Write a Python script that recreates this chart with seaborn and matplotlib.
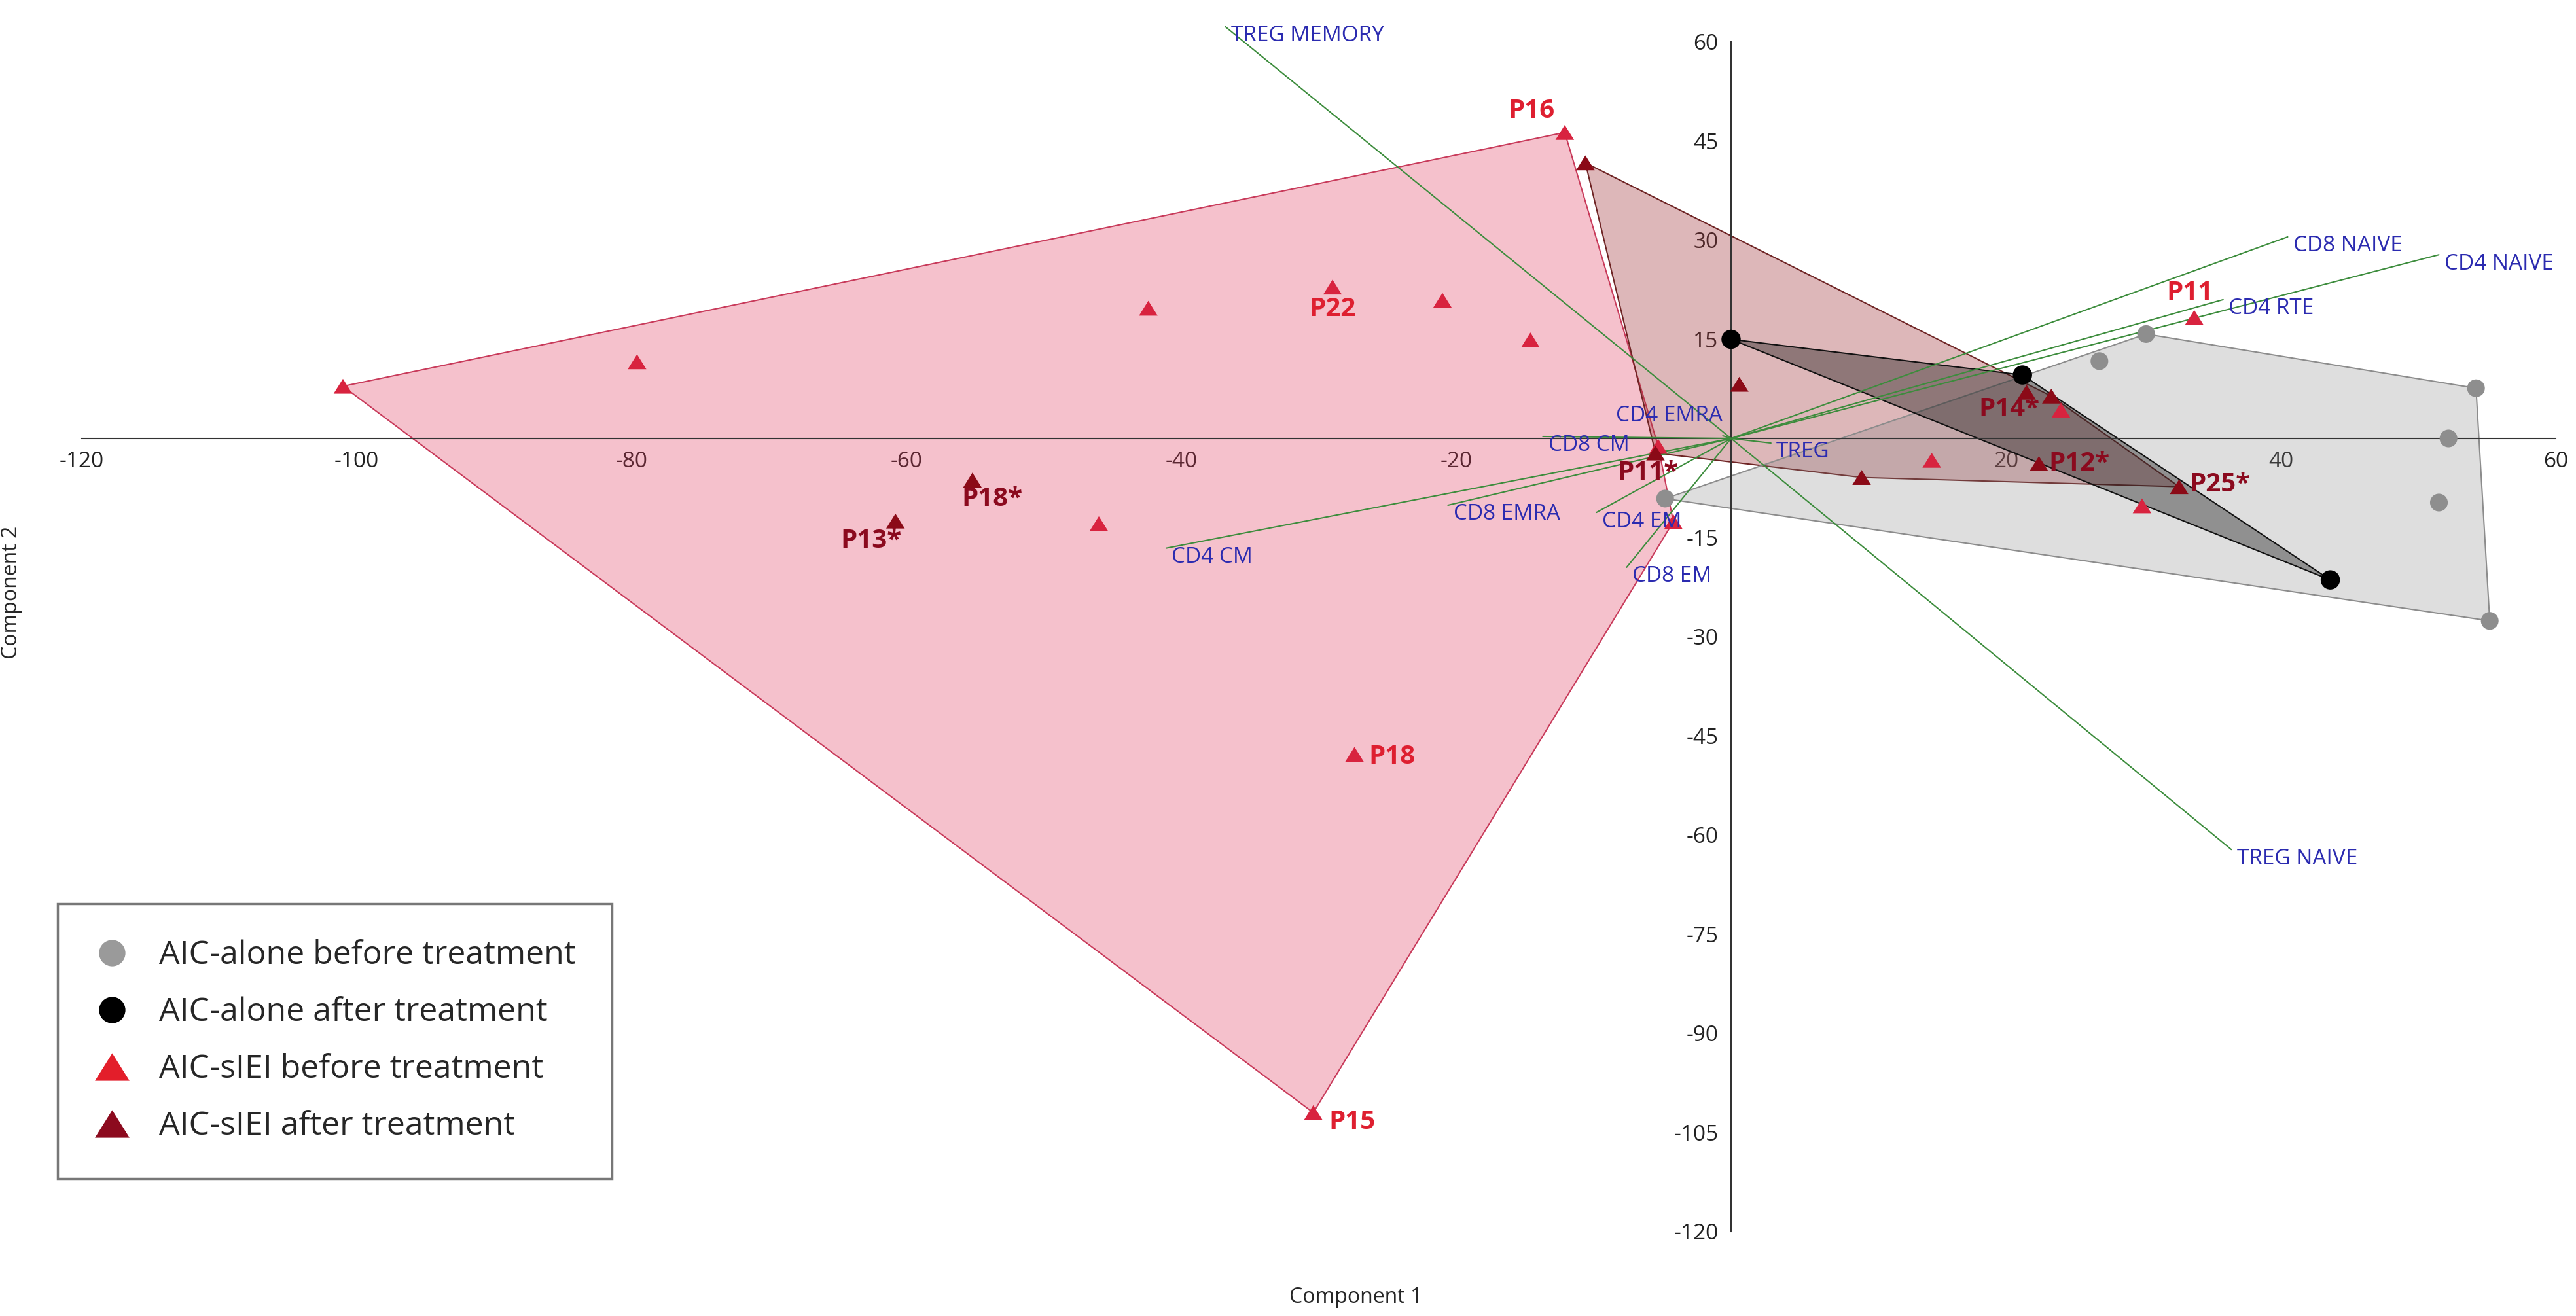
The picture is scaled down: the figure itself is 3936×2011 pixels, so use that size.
import numpy as np
import pandas as pd
import matplotlib
matplotlib.use("Agg")
import matplotlib.pyplot as plt
import seaborn as sns
from matplotlib.lines import Line2D

# --- data (PCA scores) ---
alone_before_x = [-4.8, 26.8, 30.2, 54.2, 52.2, 51.5, 55.2]
alone_before_y = [-9.1, 11.7, 15.8, 7.6, 0.0, -9.7, -27.6]

alone_after_x = [0.0, 21.2, 43.6]
alone_after_y = [15.0, 9.6, -21.4]

sIEI_before_x = [-101.0, -79.6, -46.0, -42.4, -29.0, -21.0, -14.6, -12.1, -27.4, -30.4, -5.3, -4.2, 14.6, 24.0, 29.9, 33.7]
sIEI_before_y = [7.9, 11.6, -12.9, 19.7, 22.9, 20.9, 14.9, 46.3, -47.8, -102.0, -1.2, -12.6, -3.3, 4.3, -10.2, 18.3]
sIEI_before_names = ["", "", "", "", "P22", "", "", "P16", "P18", "P15", "", "", "", "", "", "P11"]
sIEI_before_hull = list(range(12))

sIEI_after_x = [-60.8, -55.2, -10.6, 0.6, -5.5, 9.5, 21.5, 23.3, 22.4, 32.6]
sIEI_after_y = [-12.5, -6.3, 41.7, 8.2, -2.2, -5.9, 7.0, 6.4, -3.8, -7.3]
sIEI_after_names = ["P13*", "P18*", "", "", "P11*", "", "P14*", "", "P12*", "P25*"]
sIEI_after_hull = list(range(2, 10))

# --- loadings (biplot vectors) ---
loading_names = ["TREG MEMORY", "CD8 NAIVE", "CD4 NAIVE", "CD4 RTE", "TREG NAIVE", "TREG",
                 "CD4 CM", "CD8 EMRA", "CD8 CM", "CD4 EM", "CD8 EM", "CD4 EMRA"]
loading_x = [-36.8, 40.5, 51.5, 35.8, 36.4, 2.9, -41.1, -20.6, -13.7, -9.8, -7.6, -0.6]
loading_y = [62.3, 30.5, 27.8, 21.0, -62.2, -0.7, -16.6, -10.1, 0.3, -11.2, -19.5, 0.4]

group_labels = ["AIC-alone before treatment", "AIC-alone after treatment",
                "AIC-sIEI before treatment", "AIC-sIEI after treatment"]

# label offsets in points
label_offsets = {"P16": (-37, 24), "P22": (0, -24), "P11": (-5, 27), "P18": (41, -3), "P15": (43, -10),
                 "P13*": (-27, -22), "P18*": (22, -21), "P11*": (-8, -22), "P14*": (-19, -19),
                 "P12*": (44, 0), "P25*": (45, 2)}

C_GREY = "#8e8e8e"
C_BLACK = "#000000"
C_RED = "#d8233f"
C_DARK = "#8b0a17"
TRI = [(-1, -0.8), (1, -0.8), (0, 0.8)]


def convex_hull(xs, ys):
    pts = sorted(set(zip(xs, ys)))

    def cross(o, a, b):
        return (a[0] - o[0]) * (b[1] - o[1]) - (a[1] - o[1]) * (b[0] - o[0])

    lower, upper = [], []
    for p in pts:
        while len(lower) >= 2 and cross(lower[-2], lower[-1], p) <= 0:
            lower.pop()
        lower.append(p)
    for p in reversed(pts):
        while len(upper) >= 2 and cross(upper[-2], upper[-1], p) <= 0:
            upper.pop()
        upper.append(p)
    return np.array(lower[:-1] + upper[:-1])


sns.set_style("white")
plt.rcParams["font.family"] = ["Open Sans", "DejaVu Sans"]

df = pd.concat([
    pd.DataFrame({"x": alone_before_x, "y": alone_before_y, "group": group_labels[0]}),
    pd.DataFrame({"x": alone_after_x, "y": alone_after_y, "group": group_labels[1]}),
    pd.DataFrame({"x": sIEI_before_x, "y": sIEI_before_y, "group": group_labels[2]}),
    pd.DataFrame({"x": sIEI_after_x, "y": sIEI_after_y, "group": group_labels[3]}),
], ignore_index=True)

fig = plt.figure(figsize=(39.37, 20.11), dpi=100)
ax = fig.add_axes([125 / 3937, 1 - 1882 / 2011, 3780 / 3937, 1818 / 2011])

# hulls
hull_specs = [
    (np.array(sIEI_before_x)[sIEI_before_hull], np.array(sIEI_before_y)[sIEI_before_hull], (225, 52, 88), 0.30, "#c83a5a"),
    (np.array(sIEI_after_x)[sIEI_after_hull], np.array(sIEI_after_y)[sIEI_after_hull], (160, 50, 55), 0.35, "#6e2424"),
    (np.array(alone_before_x), np.array(alone_before_y), (128, 128, 128), 0.26, "#8c8c8c"),
    (np.array(alone_after_x), np.array(alone_after_y), (0, 0, 0), 0.35, "#111111"),
]
for hx, hy, rgb, a, ec in hull_specs:
    h = convex_hull(hx, hy)
    fc = (rgb[0] / 255, rgb[1] / 255, rgb[2] / 255, a)
    ax.fill(h[:, 0], h[:, 1], facecolor=fc, edgecolor=ec, linewidth=1.5, zorder=1)

# loading vectors
for name, lx, ly in zip(loading_names, loading_x, loading_y):
    ax.plot([0, lx], [0, ly], color="#3c8c3c", linewidth=1.5, zorder=2, clip_on=False)
    if name == "CD4 EMRA":
        ax.annotate(name, (lx, ly), xytext=(0, 10), textcoords="offset points",
                    ha="right", va="bottom", fontsize=24, color="#2b2bb0", zorder=5)
    else:
        ax.annotate(name, (lx, ly), xytext=(6, -10), textcoords="offset points",
                    ha="left", va="center", fontsize=24, color="#2b2bb0", zorder=5,
                    annotation_clip=False)

# points
styles = {group_labels[0]: ("o", C_GREY, 380),
          group_labels[1]: ("o", C_BLACK, 450),
          group_labels[2]: (TRI, C_RED, 420),
          group_labels[3]: (TRI, C_DARK, 420)}
for g, (m, c, s) in styles.items():
    sub = df[df["group"] == g]
    sns.scatterplot(data=sub, x="x", y="y", marker=m, color=c, s=s, linewidth=0,
                    edgecolor="none", ax=ax, legend=False, zorder=4)

for names, xs, ys, col in [(sIEI_before_names, sIEI_before_x, sIEI_before_y, "#de1f30"),
                           (sIEI_after_names, sIEI_after_x, sIEI_after_y, "#8b0a1e")]:
    for n, px, py in zip(names, xs, ys):
        if n:
            ax.annotate(n, (px, py), xytext=label_offsets[n], textcoords="offset points",
                        ha="center", va="center", fontsize=29, fontweight="bold", color=col, zorder=6)

# axes through origin
ax.set_xlim(-120, 60)
ax.set_ylim(-120, 60)
for side in ["top", "right"]:
    ax.spines[side].set_visible(False)
for side in ["left", "bottom"]:
    ax.spines[side].set_position(("data", 0))
    ax.spines[side].set_color("#333333")
    ax.spines[side].set_linewidth(1.5)
    ax.spines[side].set_zorder(1.5)
xt = [v for v in range(-120, 61, 20) if v != 0]
yt = [v for v in range(-120, 61, 15) if v != 0]
ax.set_xticks(xt)
ax.set_xticklabels([str(v) for v in xt])
ax.set_yticks(yt)
ax.set_yticklabels([str(v) for v in yt])
ax.tick_params(direction="out", length=8, width=1.5, color="#333333", labelsize=24,
               labelcolor="#222222", pad=6)
ax.set_xlabel("Component 1", fontsize=23)
ax.set_ylabel("Component 2", fontsize=23)
ax.xaxis.set_label_coords(0.515, -0.046)
ax.yaxis.set_label_coords(-0.024, 0.537)

handles = [
    Line2D([0], [0], marker="o", color="none", markerfacecolor="#9a9a9a", markeredgecolor="none", markersize=29),
    Line2D([0], [0], marker="o", color="none", markerfacecolor="#000000", markeredgecolor="none", markersize=29),
    Line2D([0], [0], marker=TRI, color="none", markerfacecolor="#e31e2a", markeredgecolor="none", markersize=38),
    Line2D([0], [0], marker=TRI, color="none", markerfacecolor="#8c0a1e", markeredgecolor="none", markersize=38),
]
leg = fig.legend(handles, group_labels, loc="lower left", bbox_to_anchor=(88 / 3937, 1 - 1801 / 2011),
                 frameon=True, fancybox=False, edgecolor="#555555", fontsize=36, borderpad=1.1,
                 handlelength=1.1, handletextpad=0.9, labelspacing=0.75, borderaxespad=0)
leg.get_frame().set_linewidth(2.5)

fig.savefig("out.png", dpi=100, facecolor="white")
